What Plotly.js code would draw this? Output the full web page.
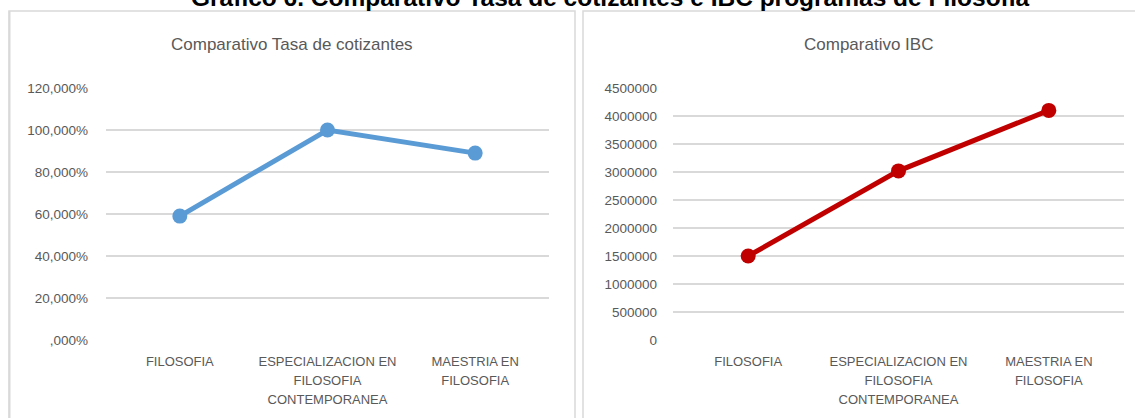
<!DOCTYPE html>
<html>
<head>
<meta charset="utf-8">
<script src="https://cdn.plot.ly/plotly-3.0.1.min.js"></script>
<style>
  html, body { margin: 0; padding: 0; background: #ffffff; }
  #chart { width: 1135px; height: 418px; }
</style>
</head>
<body>
<div id="chart"></div>
<script>
// ---- Data ----
const categories = [
  "FILOSOFIA",
  "ESPECIALIZACION EN<br>FILOSOFIA<br>CONTEMPORANEA",
  "MAESTRIA EN<br>FILOSOFIA"
];
const tasaCotizantes = [0.59, 1.00, 0.89];
const ibc = [1500000, 3020000, 4100000];

const tasaTickVals = [0, 0.2, 0.4, 0.6, 0.8, 1.0, 1.2];
const tasaTickText = [",000%", "20,000%", "40,000%", "60,000%", "80,000%", "100,000%", "120,000%"];
const ibcTickVals = [0, 500000, 1000000, 1500000, 2000000, 2500000, 3000000, 3500000, 4000000, 4500000];
const ibcTickText = ["0", "500000", "1000000", "1500000", "2000000", "2500000", "3000000", "3500000", "4000000", "4500000"];

const mainTitle = "Gráfico 6. Comparativo Tasa de cotizantes e IBC programas de Filosofía";
const leftTitle = "Comparativo Tasa de cotizantes";
const rightTitle = "Comparativo IBC";

// ---- Layout helpers (pixel -> paper) ----
const W = 1135, H = 418;
const px = v => v / W;
const py = v => 1 - v / H;

const FONT = "Liberation Sans, Arial, sans-serif";
const GREY = "#595959";
const GRID = "#d9d9d9";

// category labels: smaller glyphs, Excel-like generous line spacing
const catText = categories.map(c => '<span style="font-size:13px">' + c + '</span>');

const traces = [
  {
    x: categories, y: tasaCotizantes, type: "scatter", mode: "lines+markers",
    xaxis: "x", yaxis: "y",
    line: { color: "#5b9bd5", width: 5 },
    marker: { color: "#5b9bd5", size: 15 },
    hoverinfo: "skip"
  },
  {
    x: categories, y: ibc, type: "scatter", mode: "lines+markers",
    xaxis: "x2", yaxis: "y2",
    line: { color: "#c00000", width: 5 },
    marker: { color: "#c00000", size: 15 },
    hoverinfo: "skip"
  }
];

const catAxis = (domain, anchor) => ({
  type: "category",
  domain: domain,
  anchor: anchor,
  range: [-0.5, 2.5],
  tickmode: "array",
  tickvals: categories,
  ticktext: catText,
  showgrid: false,
  showline: false,
  zeroline: false,
  ticks: "",
  ticklen: 0,
  ticklabelstandoff: 10,
  tickfont: { family: FONT, size: 14.6, color: GREY },
  tickangle: 0,
  fixedrange: true
});

const valAxis = (domain, anchor, range, vals, text, standoff) => ({
  domain: domain,
  anchor: anchor,
  range: range,
  tickmode: "array",
  tickvals: vals,
  ticktext: text,
  showgrid: true,
  gridcolor: GRID,
  gridwidth: 1.5,
  zeroline: false,
  showline: false,
  ticks: "",
  ticklabelstandoff: standoff,
  tickfont: { family: FONT, size: 13.5, color: GREY },
  fixedrange: true
});

const yDomain = [py(340), py(88)];

const layout = {
  width: W, height: H,
  margin: { l: 0, r: 0, t: 0, b: 0 },
  paper_bgcolor: "#ffffff",
  plot_bgcolor: "rgba(0,0,0,0)",
  showlegend: false,
  xaxis: catAxis([px(106), px(549)], "y"),
  yaxis: valAxis(yDomain, "x", [0, 1.2], tasaTickVals, tasaTickText, 17),
  xaxis2: catAxis([px(673), px(1124)], "y2"),
  yaxis2: valAxis(yDomain, "x2", [0, 4500000], ibcTickVals, ibcTickText, 15),
  shapes: [
    { type: "rect", xref: "paper", yref: "paper",
      x0: px(9), x1: px(575), y0: py(430), y1: py(11),
      line: { color: GRID, width: 1.5 }, layer: "below" },
    { type: "line", xref: "paper", yref: "paper",
      x0: px(9.5), x1: px(9.5), y0: py(430), y1: py(11),
      line: { color: GRID, width: 2 }, layer: "below" },
    { type: "rect", xref: "paper", yref: "paper",
      x0: px(583), x1: px(1145), y0: py(430), y1: py(11),
      line: { color: GRID, width: 1.5 }, layer: "below" }
  ],
  annotations: [
    { text: "<b>" + mainTitle + "</b>", xref: "paper", yref: "paper",
      x: px(610), y: py(13), xanchor: "center", yanchor: "bottom",
      showarrow: false, font: { family: FONT, size: 24.5, color: "#000000" } },
    { text: leftTitle, xref: "paper", yref: "paper",
      x: px(292), y: py(44), xanchor: "center", yanchor: "middle",
      showarrow: false, font: { family: FONT, size: 17, color: GREY } },
    { text: rightTitle, xref: "paper", yref: "paper",
      x: px(868), y: py(44), xanchor: "center", yanchor: "middle",
      showarrow: false, font: { family: FONT, size: 17, color: GREY } }
  ]
};

Plotly.newPlot("chart", traces, layout, { staticPlot: true, displayModeBar: false });
</script>
</body>
</html>
